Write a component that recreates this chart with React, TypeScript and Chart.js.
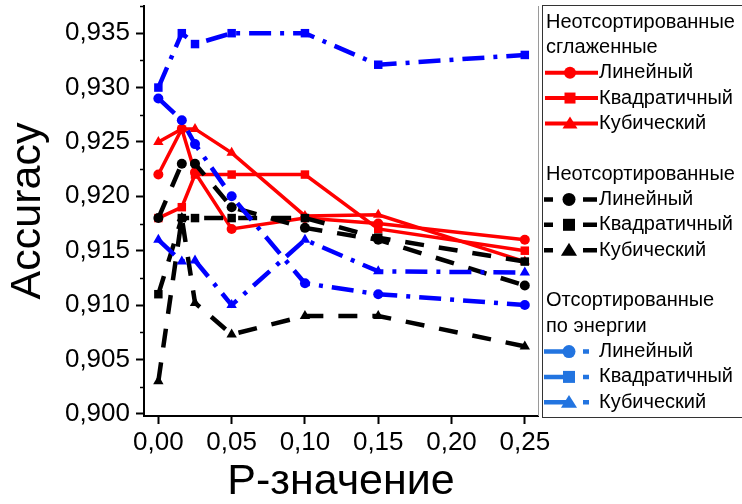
import React, { useEffect, useRef } from "react";
import { Chart, registerables } from "chart.js";

Chart.register(...registerables);

// ---- data ----
const pValues = [0, 0.016, 0.025, 0.05, 0.1, 0.15, 0.25];

const smoothLinear = [0.922, 0.9262, 0.9222, 0.917, 0.918, 0.9175, 0.916];
const smoothQuadratic = [0.918, 0.919, 0.922, 0.922, 0.922, 0.917, 0.915];
const smoothCubic = [0.925, 0.9262, 0.9262, 0.924, 0.9182, 0.9183, 0.914];

const unsortedLinear = [0.918, 0.923, 0.923, 0.919, 0.9171, 0.916, 0.9118];
const unsortedQuadratic = [0.911, 0.918, 0.918, 0.918, 0.918, 0.9162, 0.914];
const unsortedCubic = [0.903, 0.918, 0.9102, 0.9073, 0.909, 0.909, 0.9062];

const sortedLinear = [0.929, 0.927, 0.9248, 0.92, 0.912, 0.911, 0.910];
const sortedQuadratic = [0.930, 0.935, 0.934, 0.935, 0.935, 0.9321, 0.933];
const sortedCubic = [0.916, 0.914, 0.9141, 0.910, 0.916, 0.9131, 0.913];

const xTicks = [0, 0.05, 0.1, 0.15, 0.2, 0.25];
const yTicks = [0.9, 0.905, 0.91, 0.915, 0.92, 0.925, 0.93, 0.935];
const yMinorTicks = [0.9025, 0.9075, 0.9125, 0.9175, 0.9225, 0.9275, 0.9325, 0.9375];

const methodLabels = ["Линейный", "Квадратичный", "Кубический"];
const markerStyles = ["circle", "rect", "triangle"];
const groupTitles = [
  ["Неотсортированные", "сглаженные"],
  ["Неотсортированные"],
  ["Отсортированные", "по энергии"],
];

const FONT = '"Liberation Sans", Arial, Helvetica, sans-serif';
const RED = "#ff0000";
const BLACK = "#000000";
const BLUE = "#0000ff";
const LEGEND_BLUE = "#2274e0";

const BLACK_DASH = [19, 15];
const BLUE_DASH = [22, 9, 4, 9];

function drawMarker(ctx: CanvasRenderingContext2D, style: string, x: number, y: number, r: number, color: string) {
  ctx.fillStyle = color;
  ctx.beginPath();
  if (style === "circle") {
    ctx.arc(x, y, r, 0, Math.PI * 2);
  } else if (style === "rect") {
    ctx.rect(x - r, y - r, 2 * r, 2 * r);
  } else {
    ctx.moveTo(x, y - r * 1.05);
    ctx.lineTo(x + r * 1.15, y + r * 0.8);
    ctx.lineTo(x - r * 1.15, y + r * 0.8);
    ctx.closePath();
  }
  ctx.fill();
}

const extrasPlugin = {
  id: "extras",
  afterDraw(chart: any) {
    const ctx: CanvasRenderingContext2D = chart.ctx;
    const area = chart.chartArea;
    const ys = chart.scales.y;
    ctx.save();
    // minor y ticks
    ctx.strokeStyle = "#000";
    ctx.lineWidth = 1.5;
    yMinorTicks.forEach((v) => {
      const y = Math.round(ys.getPixelForValue(v)) + 0.5;
      ctx.beginPath();
      ctx.moveTo(area.left - 4, y);
      ctx.lineTo(area.left, y);
      ctx.stroke();
    });
    // right frame line
    ctx.strokeStyle = "#9a9a9a";
    ctx.lineWidth = 1;
    ctx.beginPath();
    ctx.moveTo(area.right + 0.5, area.top);
    ctx.lineTo(area.right + 0.5, area.bottom);
    ctx.stroke();

    // legend
    ctx.strokeStyle = "#333";
    ctx.lineWidth = 1;
    ctx.strokeRect(542.5, 5.5, 210, 412);
    ctx.font = "20px " + FONT;
    ctx.textBaseline = "middle";
    ctx.textAlign = "left";
    const pitch = 25.35;
    let row = 0;
    const kinds = ["solid", "dash", "dashdot"];
    const colors = [RED, BLACK, LEGEND_BLUE];
    groupTitles.forEach((titles, gi) => {
      titles.forEach((t) => {
        ctx.fillStyle = "#000";
        ctx.fillText(t, 546, 22 + row * pitch);
        row++;
      });
      methodLabels.forEach((label, i) => {
        const y = 22 + row * pitch;
        const c = colors[gi];
        ctx.strokeStyle = c;
        ctx.lineCap = "butt";
        if (kinds[gi] === "solid") {
          ctx.lineWidth = 4;
          ctx.beginPath();
          ctx.moveTo(545, y);
          ctx.lineTo(598, y);
          ctx.stroke();
          drawMarker(ctx, markerStyles[i], 570, y, i === 0 ? 6 : i === 1 ? 5.5 : 6.5, c);
        } else if (kinds[gi] === "dash") {
          ctx.lineWidth = 4.5;
          ctx.beginPath();
          ctx.moveTo(544, y);
          ctx.lineTo(553, y);
          ctx.moveTo(583, y);
          ctx.lineTo(597, y);
          ctx.stroke();
          drawMarker(ctx, markerStyles[i], 569, y, i === 0 ? 6.5 : i === 1 ? 6 : 7, c);
        } else {
          ctx.lineWidth = 4.5;
          ctx.beginPath();
          ctx.moveTo(544, y);
          ctx.lineTo(568, y);
          ctx.moveTo(583, y);
          ctx.lineTo(589, y);
          ctx.stroke();
          drawMarker(ctx, markerStyles[i], 569, y, i === 0 ? 6.5 : i === 1 ? 6 : 7, c);
        }
        ctx.fillStyle = "#000";
        ctx.fillText(label, 599, y);
        row++;
      });
      row++;
    });
    ctx.restore();
  },
};

function series(values: number[]) {
  return pValues.map((x, i) => ({ x, y: values[i] }));
}

function makeDataset(values: number[], color: string, kind: string, marker: string, order: number) {
  return {
    data: series(values),
    borderColor: color,
    backgroundColor: color,
    pointBackgroundColor: color,
    pointBorderColor: color,
    pointBorderWidth: 0,
    pointStyle: marker,
    pointRadius: marker === "rect" ? 6 : marker === "triangle" ? 6 : 5,
    borderWidth: kind === "solid" ? 3.5 : 4.5,
    borderDash: kind === "solid" ? [] : kind === "dash" ? BLACK_DASH : BLUE_DASH,
    borderCapStyle: "butt",
    tension: 0,
    fill: false,
    order,
  };
}

export default function App() {
  const canvasRef = useRef<HTMLCanvasElement | null>(null);

  useEffect(() => {
    if (!canvasRef.current) return;
    Chart.defaults.color = "#000";
    const chart = new Chart(canvasRef.current, {
      type: "line",
      data: {
        datasets: [
          makeDataset(smoothLinear, RED, "solid", "circle", 3),
          makeDataset(smoothQuadratic, RED, "solid", "rect", 3),
          makeDataset(smoothCubic, RED, "solid", "triangle", 3),
          makeDataset(unsortedLinear, BLACK, "dash", "circle", 2),
          makeDataset(unsortedQuadratic, BLACK, "dash", "rect", 2),
          makeDataset(unsortedCubic, BLACK, "dash", "triangle", 2),
          makeDataset(sortedLinear, BLUE, "dashdot", "circle", 1),
          makeDataset(sortedQuadratic, BLUE, "dashdot", "rect", 1),
          makeDataset(sortedCubic, BLUE, "dashdot", "triangle", 1),
        ] as any,
      },
      options: {
        animation: false,
        responsive: false,
        devicePixelRatio: 1,
        layout: { padding: { top: 5, right: 204, left: 0, bottom: 0 } },
        plugins: { legend: { display: false }, tooltip: { enabled: false } },
        scales: {
          x: {
            type: "linear",
            min: -0.0098,
            max: 0.259,
            afterBuildTicks: (scale: any) => {
              scale.ticks = xTicks.map((v) => ({ value: v }));
            },
            afterFit: (scale: any) => {
              scale.height = 88;
              scale.paddingLeft = 0;
              scale.paddingRight = 0;
            },
            ticks: {
              font: { family: FONT, size: 26 },
              color: "#000",
              padding: 3,
              maxRotation: 0,
              autoSkip: false,
              callback: (v: any) => Number(v).toFixed(2).replace(".", ","),
            },
            grid: {
              display: true,
              drawOnChartArea: false,
              drawTicks: true,
              tickLength: 8,
              tickWidth: 2,
              tickColor: "#000",
            },
            border: { display: true, color: "#000", width: 2 },
            title: {
              display: true,
              text: "P-значение",
              font: { family: FONT, size: 43 },
              color: "#000",
              padding: { top: 0, bottom: -4 },
            },
          },
          y: {
            type: "linear",
            min: 0.8998,
            max: 0.9375,
            afterBuildTicks: (scale: any) => {
              scale.ticks = yTicks.map((v) => ({ value: v }));
            },
            afterFit: (scale: any) => {
              scale.width = 144;
              scale.paddingTop = 0;
              scale.paddingBottom = 0;
            },
            ticks: {
              font: { family: FONT, size: 26 },
              color: "#000",
              padding: 6,
              autoSkip: false,
              callback: (v: any) => Number(v).toFixed(3).replace(".", ","),
            },
            grid: {
              display: true,
              drawOnChartArea: false,
              drawTicks: true,
              tickLength: 8,
              tickWidth: 2,
              tickColor: "#000",
            },
            border: { display: true, color: "#000", width: 2 },
            title: {
              display: true,
              text: "Accuracy",
              font: { family: FONT, size: 43 },
              color: "#000",
              padding: { top: 2, bottom: 0 },
            },
          },
        },
      },
      plugins: [extrasPlugin],
    });
    return () => chart.destroy();
  }, []);

  return (
    <div style={{ position: "absolute", left: 0, top: 0, width: 742, height: 504, background: "#fff" }}>
      <canvas ref={canvasRef} width={742} height={504} style={{ display: "block" }} />
    </div>
  );
}
